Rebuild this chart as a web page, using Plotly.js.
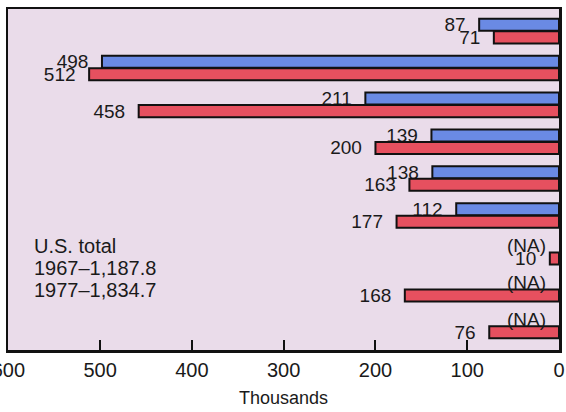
<!DOCTYPE html>
<html>
<head>
<meta charset="utf-8">
<script src="https://cdn.plot.ly/plotly-3.0.1.min.js"></script>
<style>html,body{margin:0;padding:0;background:#fff;}#chart{width:566px;height:412px;}</style>
</head>
<body>
<div id="chart"></div>
<script>
const categories = ['Row 1','Row 2','Row 3','Row 4','Row 5','Row 6','Row 7','Row 8','Row 9'];
const values1967 = [87, 498, 211, 139, 138, 112, null, null, null];
const values1977 = [71, 512, 458, 200, 163, 177, 10, 168, 76];
const seriesNames = ['1967', '1977'];
const xTickValues = [600, 500, 400, 300, 200, 100, 0];
const naLabel = '(NA)';
const totalLines = ['U.S. total', '1967\u20131,187.8', '1977\u20131,834.7'];

const NB = '\u00a0\u00a0';
const FAM = 'Liberation Sans, Arial, sans-serif';
const textFont = {family: FAM, size: 19, color: '#1a1a1a'};

function barTrace(vals, name, color) {
  return {
    type: 'bar', orientation: 'h', name: name,
    x: vals, y: categories,
    marker: {color: color, line: {color: '#111', width: 2}},
    text: vals.map(v => v == null ? '' : String(v) + NB),
    textposition: 'outside', constraintext: 'none', cliponaxis: false,
    textfont: textFont, hoverinfo: 'skip'
  };
}

const data = [
  barTrace(values1967, seriesNames[0], '#6a8ae4'),
  barTrace(values1977, seriesNames[1], '#e6505f')
];

const annotations = [];
categories.forEach((c, i) => {
  if (values1967[i] == null) {
    annotations.push({x: 0, y: c, xref: 'x', yref: 'y', text: naLabel, showarrow: false,
      xanchor: 'right', yanchor: 'middle', xshift: -11, yshift: 7, font: textFont});
  }
});
const totalY = [0.305, 0.240, 0.176];
totalLines.forEach((t, i) => {
  annotations.push({x: 0.043, y: totalY[i], xref: 'paper', yref: 'paper', text: t, showarrow: false,
    xanchor: 'left', yanchor: 'middle', font: {family: FAM, size: 20, color: '#1a1a1a'}});
});

const layout = {
  width: 566, height: 412,
  margin: {l: 8, r: 7, t: 9, b: 62},
  paper_bgcolor: '#ffffff', plot_bgcolor: '#eadcea',
  showlegend: false, barmode: 'group', bargap: 0.32, bargroupgap: 0.04,
  xaxis: {
    range: [600.4, 0], tickvals: xTickValues, ticktext: xTickValues.map(String),
    ticks: 'inside', ticklen: 10, tickwidth: 2, tickcolor: '#111',
    ticklabeloverflow: 'allow',
    showline: true, linecolor: '#111', linewidth: 2.5, mirror: true,
    showgrid: false, zeroline: false,
    tickfont: {family: FAM, size: 20, color: '#1a1a1a'},
    title: {text: 'Thousands', standoff: 12, font: {family: FAM, size: 18, color: '#1a1a1a'}}
  },
  yaxis: {
    type: 'category', categoryorder: 'array', categoryarray: categories,
    range: [8.65, -0.6], showticklabels: false, ticks: '',
    showline: true, linecolor: '#111', linewidth: 2.5, mirror: true,
    showgrid: false, zeroline: false
  },
  annotations: annotations
};

Plotly.newPlot('chart', data, layout, {displayModeBar: false, staticPlot: true});
</script>
</body>
</html>
